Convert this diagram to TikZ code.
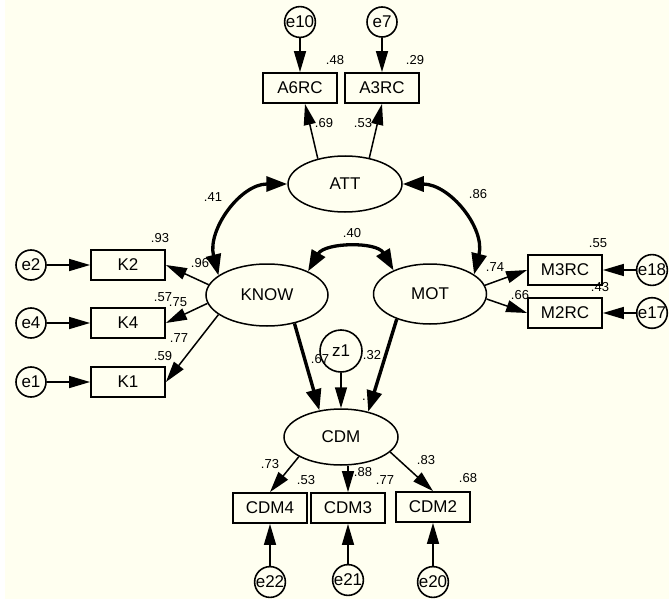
\documentclass[tikz,border=0pt]{standalone}
\usepackage{fontspec}
\setmainfont{Liberation Sans}
\usetikzlibrary{shapes.geometric,arrows.meta}
\definecolor{paper}{RGB}{255,255,240}
\begin{document}
\begin{tikzpicture}[x=1pt,y=1pt,
  obs/.style={draw, line width=1.8pt, rectangle, minimum width=74pt, minimum height=30pt,
    inner sep=0pt, font=\fontsize{17}{19}\selectfont},
  lat/.style={draw, line width=1.5pt, ellipse, inner sep=0pt, font=\fontsize{17}{19}\selectfont},
  err/.style={draw, line width=1.6pt, circle, minimum size=30pt, inner sep=0pt,
    font=\fontsize{17}{19}\selectfont},
  num/.style={inner sep=0pt, font=\fontsize{13}{15}\selectfont},
  load/.style={line width=1.5pt, -{Triangle[length=21pt,width=12pt]}},
  spath/.style={line width=3.4pt, -{Triangle[length=21pt,width=15pt]}},
  cov/.style={line width=3.3pt, {Triangle[length=21pt,width=15pt]}-{Triangle[length=21pt,width=15pt]}},
]
% canvas
\useasboundingbox (0,0) rectangle (669,-599);
\fill[paper] (0,0) rectangle (669,-599);
\fill[white] (0,0) rectangle (5,-599);

% attitude block
\node[err] (e10) at (300,-22) {e10};
\node[err] (e7) at (382,-22) {e7};
\node[obs] (A6RC) at (300,-88) {A6RC};
\node[obs] (A3RC) at (382,-88) {A3RC};
\node[lat, minimum width=114pt, minimum height=56pt] (ATT) at (345,-184) {ATT};

% knowledge block
\node[lat, minimum width=122pt, minimum height=62pt] (KNOW) at (267,-295) {KNOW};
\node[obs] (K2) at (128,-265) {K2};
\node[obs] (K4) at (128,-323) {K4};
\node[obs] (K1) at (128,-382) {K1};
\node[err] (e2) at (31,-265) {e2};
\node[err] (e4) at (31,-323) {e4};
\node[err] (e1) at (31,-382) {e1};

% motivation block
\node[lat, minimum width=113pt, minimum height=60pt] (MOT) at (430,-294) {MOT};
\node[obs] (M3RC) at (565,-270) {M3RC};
\node[obs] (M2RC) at (565,-313) {M2RC};
\node[err] (e18) at (652,-270) {e18};
\node[err] (e17) at (652,-313) {e17};

% outcome block
\node[err, minimum size=42pt] (z1) at (341,-351) {z1};
\node[lat, minimum width=114pt, minimum height=56pt] (CDM) at (341,-437) {CDM};
\node[obs] (CDM4) at (270,-508) {CDM4};
\node[obs] (CDM3) at (348,-508) {CDM3};
\node[obs] (CDM2) at (433,-507) {CDM2};
\node[err] (e22) at (270,-582) {e22};
\node[err] (e21) at (348,-580) {e21};
\node[err] (e20) at (433,-582) {e20};

% error terms
\draw[load] (e10.south) -- (A6RC.north);
\draw[load] (e7.south) -- (A3RC.north);
\draw[load] (e2.east) -- (K2.west);
\draw[load] (e4.east) -- (K4.west);
\draw[load] (e1.east) -- (K1.west);
\draw[load] (e18.west) -- (M3RC.east);
\draw[load] (e17.west) -- (M2RC.east);
\draw[load] (e22.north) -- (CDM4.south);
\draw[load] (e21.north) -- (CDM3.south);
\draw[load] (e20.north) -- (CDM2.south);
\draw[load] (z1.south) -- (CDM.north);

% loadings
\draw[load] (ATT.137) -- ([xshift=5pt]A6RC.south);
\draw[load] (ATT.47) -- (A3RC.south);
\draw[load] (KNOW.170) -- (K2.east);
\draw[load] (KNOW.188) -- (K4.east);
\draw[load] (KNOW.202) -- (K1.east);
\draw[load] (MOT.9) -- (M3RC.west);
\draw[load] (MOT.-5) -- (M2RC.west);
\draw[load] (CDM.205) -- (CDM4.north);
\draw[load] (CDM.south -| CDM3.north) -- (CDM3.north);
\draw[load] (CDM.-17) -- (CDM2.north);

% structural paths
\draw[spath] (KNOW.-46) -- (CDM.129);
\draw[spath] (MOT.217) -- (CDM.43);

% covariances
\draw[cov] (ATT.west) to[out=180,in=104,looseness=1.05] (KNOW.158);
\draw[cov] (ATT.east) to[out=0,in=76,looseness=1.05] (MOT.24);
\draw[cov] (KNOW.30) to[out=60,in=120] (MOT.147);

% estimates
\node[num] (n48) at (335,-60) {.48};
\node[num] (n29) at (415,-60) {.29};
\node[num] (n69) at (324,-123) {.69};
\node[num] (n53a) at (363,-123) {.53};
\node[num] (n41) at (213,-197) {.41};
\node[num] (n86) at (478,-194) {.86};
\node[num] (n40) at (352,-233) {.40};
\node[num] (n93) at (160,-238) {.93};
\node[num] (n96) at (200,-263) {.96};
\node[num] (n57) at (163,-297) {.57};
\node[num] (n75) at (178,-302) {.75};
\node[num] (n77a) at (179,-338) {.77};
\node[num] (n59) at (163,-356) {.59};
\node[num] (n74) at (495,-267) {.74};
\node[num] (n66) at (520,-295) {.66};
\node[num] (n55) at (598,-243) {.55};
\node[num] (n43) at (600,-287) {.43};
\node[num] (n67) at (320,-359) {.67};
\node[num] (n32) at (372,-355) {.32};
\node[num] (ndot) at (364,-400) {.};
\node[num] (n73) at (270,-464) {.73};
\node[num] (n53b) at (306,-480) {.53};
\node[num] (n88) at (363,-472) {.88};
\node[num] (n77b) at (385,-480) {.77};
\node[num] (n83) at (426,-460) {.83};
\node[num] (n68) at (468,-478) {.68};
\end{tikzpicture}
\end{document}
